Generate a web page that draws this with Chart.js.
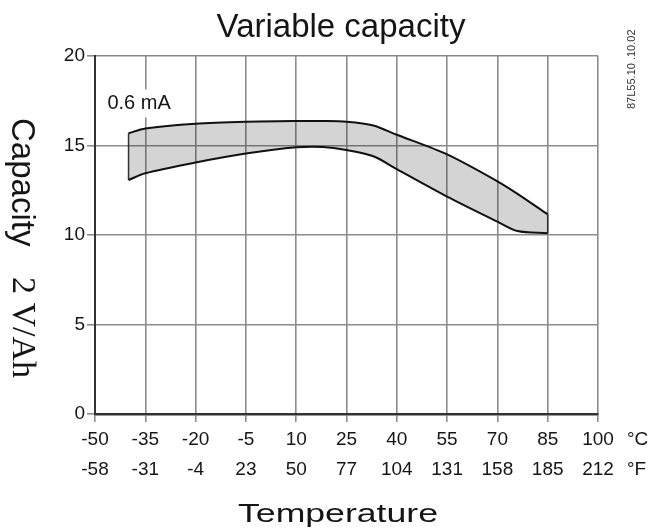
<!DOCTYPE html>
<html>
<head>
<meta charset="utf-8">
<script src="https://cdn.jsdelivr.net/npm/chart.js@4.4.1/dist/chart.umd.min.js"></script>
<style>
  html, body { margin: 0; padding: 0; background: #fff; }
  canvas { display: block; }
</style>
</head>
<body>
<canvas id="chartCap" width="655" height="532"></canvas>
<script>
// values
const tempC = [-40, -35, -20, -5, 10, 18, 25, 33, 40, 55, 70, 76, 85];
const upperCap = [15.68, 15.95, 16.22, 16.33, 16.37, 16.37, 16.33, 16.12, 15.6, 14.5, 13.0, 12.3, 11.15];
const lowerCap = [13.07, 13.45, 14.05, 14.55, 14.9, 14.92, 14.75, 14.4, 13.68, 12.15, 10.75, 10.22, 10.1];
const celsiusTicks = [-50, -35, -20, -5, 10, 25, 40, 55, 70, 85, 100];
const fahrenheitTicks = [-58, -31, -4, 23, 50, 77, 104, 131, 158, 185, 212];
const yTicks = [0, 5, 10, 15, 20];

const SANS = "'Liberation Sans', Arial, sans-serif";
const SERIF = "'Liberation Serif', 'Times New Roman', serif";
const INK = "#151515";
const GRID = "#8c8c8c";

Chart.defaults.font.family = SANS;
Chart.defaults.color = INK;

const pts = (ys) => tempC.map((t, i) => ({ x: t, y: ys[i] }));
const last = tempC.length - 1;

const decor = {
  id: "decor",
  afterDraw(chart) {
    const { ctx, scales } = chart;
    const xs = scales.x, ys = scales.y;
    ctx.save();
    ctx.fillStyle = INK;

    // title
    ctx.font = `33px ${SANS}`;
    ctx.textAlign = "center";
    ctx.textBaseline = "alphabetic";
    ctx.fillText("Variable capacity", 341, 37);

    // x title (a bit stretched in the reference)
    ctx.save();
    ctx.font = `26px ${SANS}`;
    const w = ctx.measureText("Temperature").width;
    ctx.translate(338, 522);
    ctx.scale(200 / w, 1);
    ctx.fillText("Temperature", 0, 0);
    ctx.restore();

    // y title, reads top to bottom
    ctx.save();
    ctx.translate(12, 118);
    ctx.rotate(Math.PI / 2);
    ctx.textAlign = "left";
    ctx.font = `33px ${SANS}`;
    ctx.fillText("Capacity", 0, 0);
    ctx.restore();
    ctx.save();
    ctx.translate(13, 277);
    ctx.rotate(Math.PI / 2);
    ctx.textAlign = "left";
    ctx.font = `34px ${SERIF}`;
    ctx.fillText("2 V/Ah", 0, 0);
    ctx.restore();

    // unit labels
    ctx.font = `19px ${SANS}`;
    ctx.textAlign = "left";
    ctx.textBaseline = "middle";
    ctx.fillText("°C", 627, 440);
    ctx.fillText("°F", 627, 470);

    // drawing code on the side
    ctx.save();
    ctx.translate(635, 109);
    ctx.rotate(-Math.PI / 2);
    ctx.font = `11px ${SANS}`;
    ctx.fillStyle = "#333";
    ctx.textBaseline = "alphabetic";
    ctx.fillText("87L55.10 .10.02", 0, 0);
    ctx.restore();

    // current label with white box over the grid
    const lx = xs.getPixelForValue(-46.3);
    const ly = ys.getPixelForValue(17.35);
    ctx.font = `20px ${SANS}`;
    const lw = ctx.measureText("0.6 mA").width;
    ctx.fillStyle = "#fff";
    ctx.fillRect(lx - 3, ly - 14, lw + 6, 28);
    ctx.fillStyle = INK;
    ctx.textBaseline = "middle";
    ctx.fillText("0.6 mA", lx, ly);
    ctx.restore();
  }
};

new Chart(document.getElementById("chartCap"), {
  type: "line",
  data: {
    datasets: [
      { data: pts(lowerCap), borderColor: "#111", borderWidth: 2, pointRadius: 0, fill: false, tension: 0.3 },
      { data: pts(upperCap), borderColor: "#111", borderWidth: 2, pointRadius: 0, fill: "-1", backgroundColor: "rgba(0,0,0,0.17)", tension: 0.3 },
      { data: [{ x: tempC[0], y: lowerCap[0] }, { x: tempC[0], y: upperCap[0] }], borderColor: "#333", borderWidth: 1.5, pointRadius: 0, fill: false },
      { data: [{ x: tempC[last], y: lowerCap[last] }, { x: tempC[last], y: upperCap[last] }], borderColor: "#333", borderWidth: 1.5, pointRadius: 0, fill: false }
    ]
  },
  options: {
    responsive: false,
    animation: false,
    layout: { padding: { left: 0, top: 56, right: 57, bottom: 0 } },
    plugins: { legend: { display: false }, tooltip: { enabled: false }, title: { display: false } },
    scales: {
      x: {
        type: "linear",
        min: -50,
        max: 100,
        afterBuildTicks: (s) => { s.ticks = celsiusTicks.map((v) => ({ value: v })); },
        afterFit: (s) => { s.height = 118; },
        ticks: {
          autoSkip: false,
          maxRotation: 0,
          padding: 3,
          font: { size: 19, lineHeight: 30 / 19 },
          color: INK,
          callback: (v, i) => [String(celsiusTicks[i]), String(fahrenheitTicks[i])]
        },
        grid: { color: GRID, lineWidth: 1.6, tickLength: 8, tickColor: GRID },
        border: { color: "#333", width: 2.5 }
      },
      y: {
        min: 0,
        max: 20,
        afterBuildTicks: (s) => { s.ticks = yTicks.map((v) => ({ value: v })); },
        afterFit: (s) => { s.width = 95; },
        ticks: { padding: 2, font: { size: 19 }, color: INK },
        grid: { color: GRID, lineWidth: 1.6, tickLength: 8, tickColor: GRID },
        border: { color: "#333", width: 2 }
      }
    }
  },
  plugins: [decor]
});
</script>
</body>
</html>
